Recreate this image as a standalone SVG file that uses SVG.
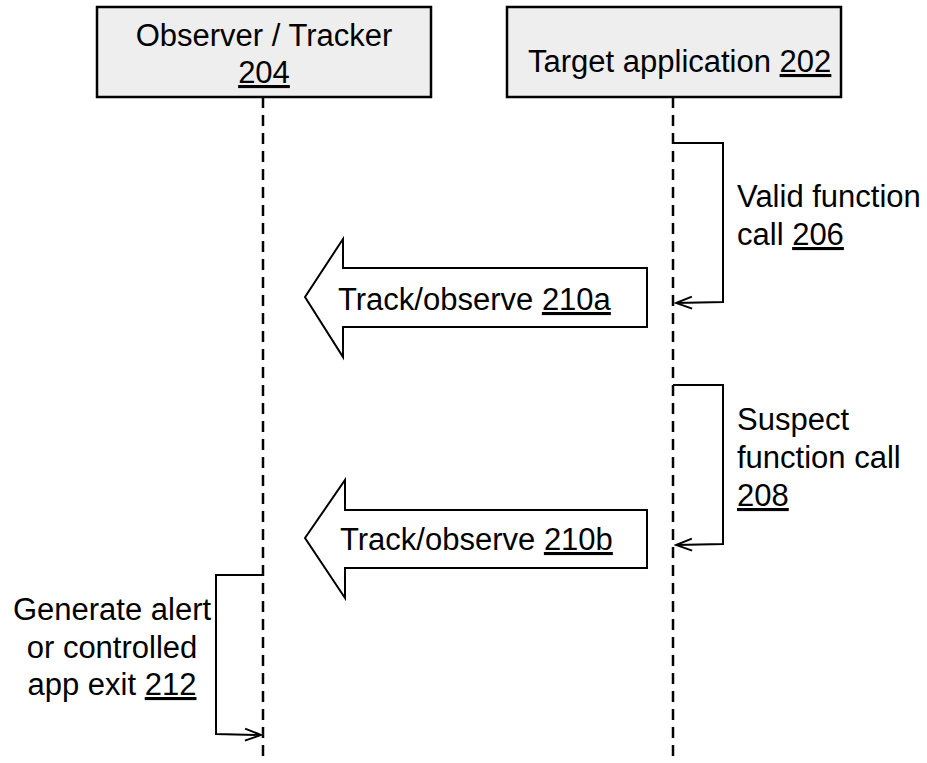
<svg xmlns="http://www.w3.org/2000/svg" width="927" height="763" viewBox="0 0 927 763">
<style>
text { font-family: "Liberation Sans", Arial, sans-serif; font-size: 31px; fill: #000; }
.u { text-decoration: underline; }
.box { fill: #eeeeee; stroke: #000; stroke-width: 2.5; }
.life { stroke: #000; stroke-width: 2.5; stroke-dasharray: 11 7; fill: none; }
.call { stroke: #000; stroke-width: 2; fill: none; }
.big { fill: #fff; stroke: #000; stroke-width: 2; stroke-linejoin: miter; }
</style>
<defs>
<marker id="ah" viewBox="-18 -8 20 16" markerWidth="20" markerHeight="16" refX="0" refY="0" orient="auto" markerUnits="userSpaceOnUse">
<path d="M-16,-6 L0,0 L-16,6" fill="none" stroke="#000" stroke-width="2"/>
</marker>
</defs>
<g id="observer">
<rect class="box" x="97" y="7" width="334" height="90"/>
<text x="264" y="46" text-anchor="middle">Observer / Tracker</text>
<text x="264" y="83" text-anchor="middle" class="u">204</text>
</g>
<g id="target">
<rect class="box" x="507" y="7" width="334" height="90"/>
<text x="528" y="72">Target application <tspan class="u">202</tspan></text>
</g>
<g id="connectors">
<line class="life" x1="263" y1="97" x2="263" y2="763"/>
<line class="life" x1="673" y1="97" x2="673" y2="763"/>
<polyline class="call" points="673,143 723,143 723,302 676,303" marker-end="url(#ah)"/>
<polyline class="call" points="673,385 723,385 723,544 676,545" marker-end="url(#ah)"/>
<polyline class="call" points="263,575 216,575 216,734 261,735" marker-end="url(#ah)"/>
</g>
<g id="call206">
<text x="737" y="207">Valid function</text>
<text x="737" y="245">call <tspan class="u">206</tspan></text>
</g>
<g id="call208">
<text x="737" y="430">Suspect</text>
<text x="737" y="468">function call</text>
<text x="737" y="506" class="u">208</text>
</g>
<g id="track210a">
<polygon class="big" points="305,297 343,239 343,268 647,268 647,327 343,327 343,357"/>
<text x="338" y="310">Track/observe <tspan class="u">210a</tspan></text>
</g>
<g id="track210b">
<polygon class="big" points="305,538 345,480 345,510 647,510 647,568 345,568 345,598"/>
<text x="340" y="550">Track/observe <tspan class="u">210b</tspan></text>
</g>
<g id="alert212">
<text x="112" y="620" text-anchor="middle">Generate alert</text>
<text x="112" y="658" text-anchor="middle">or controlled</text>
<text x="112" y="695" text-anchor="middle">app exit <tspan class="u">212</tspan></text>
</g>
</svg>
